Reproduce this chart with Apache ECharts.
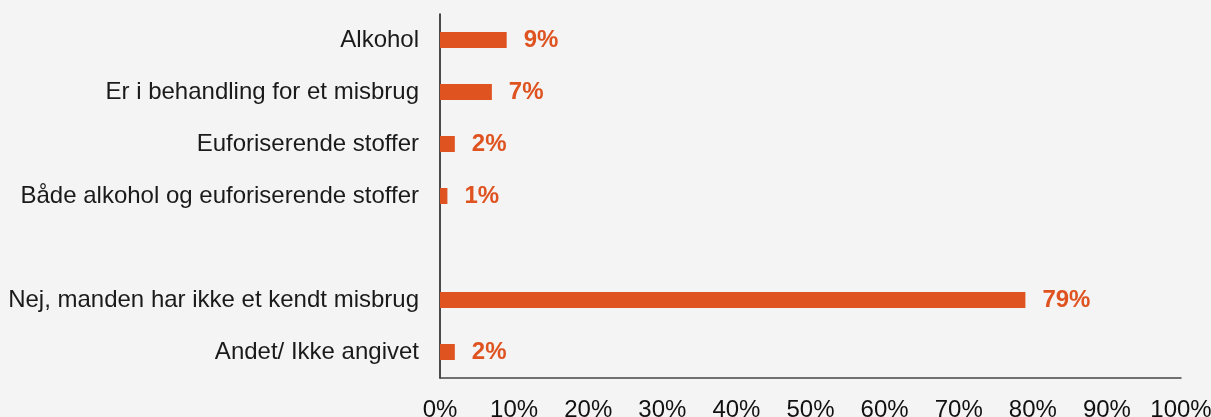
<!DOCTYPE html>
<html>
<head>
<meta charset="utf-8">
<script src="https://cdn.jsdelivr.net/npm/echarts@6/dist/echarts.min.js"></script>
<style>
  html, body { margin: 0; padding: 0; background: #f4f4f4; }
  #chart { width: 1211px; height: 417px; }
</style>
</head>
<body>
<div id="chart"></div>
<script>
// categories top to bottom; the empty one is the gap row
const categories = [
  "Alkohol",
  "Er i behandling for et misbrug",
  "Euforiserende stoffer",
  "Både alkohol og euforiserende stoffer",
  "",
  "Nej, manden har ikke et kendt misbrug",
  "Andet/ Ikke angivet",
];
const values = [9, 7, 2, 1, null, 79, 2];
const xTicks = [0, 10, 20, 30, 40, 50, 60, 70, 80, 90, 100];

const orange = "#de5320";
const font = "'Liberation Sans', Arial, sans-serif";

const chart = echarts.init(document.getElementById("chart"), null, { renderer: "canvas" });

chart.setOption({
  backgroundColor: "#f4f4f4",
  animation: false,
  grid: {
    left: 440, right: 30, top: 14, bottom: 39,
    containLabel: false,
    outerBoundsMode: "none", // labels run off the edge, like the original
  },
  xAxis: {
    type: "value",
    min: xTicks[0],
    max: xTicks[xTicks.length - 1],
    interval: 10,
    axisLine: { show: true, lineStyle: { color: "#444", width: 1.5 } },
    axisTick: { show: false },
    splitLine: { show: false },
    axisLabel: {
      formatter: (v) => v + "%",
      color: "#111",
      fontFamily: font,
      fontSize: 24,
      margin: 20,
    },
  },
  yAxis: {
    type: "category",
    inverse: true,
    data: categories,
    axisLine: { show: true, lineStyle: { color: "#111", width: 1.5 } },
    axisTick: { show: false },
    axisLabel: {
      color: "#1a1a1a",
      fontFamily: font,
      fontSize: 24,
      margin: 21,
    },
  },
  series: [
    {
      type: "bar",
      data: values,
      barWidth: 16,
      itemStyle: { color: orange },
      label: {
        show: true,
        position: "right",
        distance: 17,
        formatter: (p) => (p.value == null ? "" : p.value + "%"),
        color: orange,
        fontFamily: font,
        fontWeight: "bold",
        fontSize: 24,
      },
    },
  ],
});
</script>
</body>
</html>
